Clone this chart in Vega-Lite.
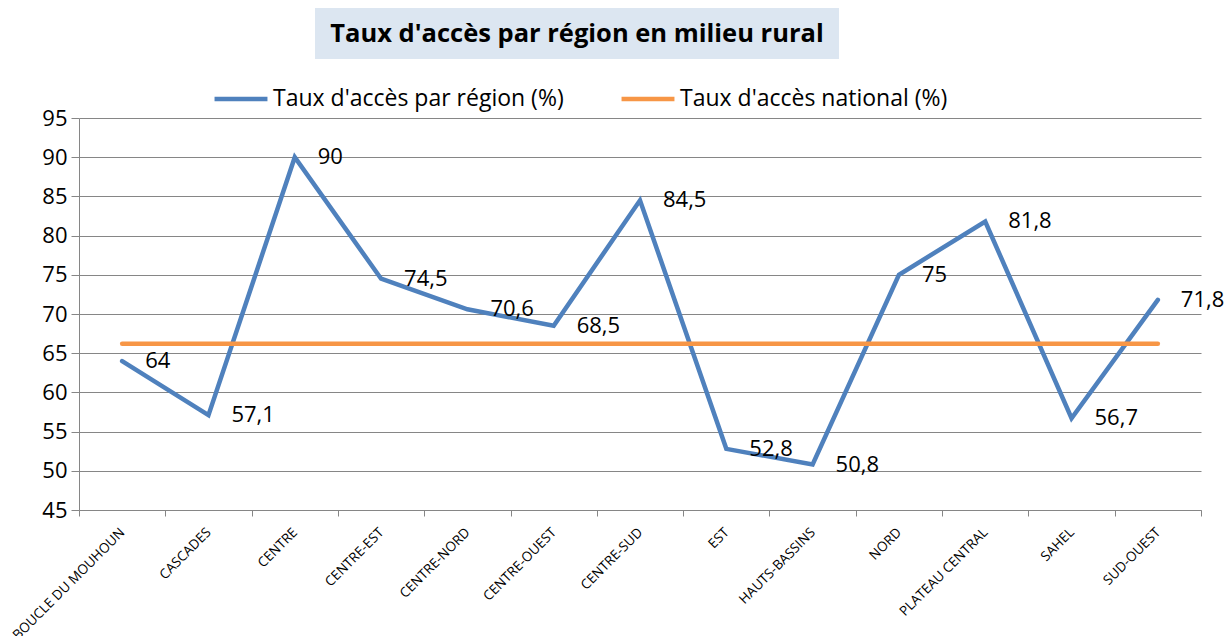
{
  "$schema": "https://vega.github.io/schema/vega-lite/v6.json",
  "background": "white",
  "padding": {"left": 9, "top": 8, "right": 0, "bottom": 0},
  "config": {"font": "Open Sans", "view": {"stroke": null}},
  "spacing": 110,
  "bounds": "flush",
  "vconcat": [
    {
      "spacing": 0,
      "bounds": "flush",
      "hconcat": [
        {
          "width": 236,
          "height": 51,
          "data": {"values": [{"t": ""}]},
          "mark": {"type": "text"},
          "encoding": {"text": {"field": "t"}}
        },
        {
          "width": 524,
          "height": 51,
          "view": {"fill": "#DCE6F1", "stroke": null},
          "data": {"values": [{"t": "Taux d'accès par région en milieu rural"}]},
          "mark": {"type": "text", "fontWeight": "bold", "fontSize": 25.5, "color": "black", "baseline": "middle", "align": "center"},
          "encoding": {"text": {"field": "t"}}
        }
      ]
    },
    {
      "width": 1122,
      "height": 392,
      "data": {
        "values": [
          {"region": "BOUCLE DU MOUHOUN", "taux": 64, "label": "64", "national": 66.2},
          {"region": "CASCADES", "taux": 57.1, "label": "57,1", "national": 66.2},
          {"region": "CENTRE", "taux": 90, "label": "90", "national": 66.2},
          {"region": "CENTRE-EST", "taux": 74.5, "label": "74,5", "national": 66.2},
          {"region": "CENTRE-NORD", "taux": 70.6, "label": "70,6", "national": 66.2},
          {"region": "CENTRE-OUEST", "taux": 68.5, "label": "68,5", "national": 66.2},
          {"region": "CENTRE-SUD", "taux": 84.5, "label": "84,5", "national": 66.2},
          {"region": "EST", "taux": 52.8, "label": "52,8", "national": 66.2},
          {"region": "HAUTS-BASSINS", "taux": 50.8, "label": "50,8", "national": 66.2},
          {"region": "NORD", "taux": 75, "label": "75", "national": 66.2},
          {"region": "PLATEAU CENTRAL", "taux": 81.8, "label": "81,8", "national": 66.2},
          {"region": "SAHEL", "taux": 56.7, "label": "56,7", "national": 66.2},
          {"region": "SUD-OUEST", "taux": 71.8, "label": "71,8", "national": 66.2}
        ]
      },
      "encoding": {
        "x": {
          "field": "region",
          "type": "nominal",
          "sort": null,
          "scale": {"type": "band", "paddingInner": 0, "paddingOuter": 0},
          "axis": {
            "title": null,
            "labelAngle": -45,
            "labelAlign": "right",
            "labelBaseline": "middle",
            "labelFontSize": 13.5,
            "labelColor": "black",
            "labelPadding": 14,
            "labelLimit": 0,
            "tickBand": "extent",
            "tickSize": 6,
            "tickColor": "#868686",
            "domainColor": "#868686",
            "grid": false
          }
        }
      },
      "layer": [
        {
          "mark": {"type": "line", "strokeWidth": 4.5, "strokeCap": "round", "strokeJoin": "miter"},
          "encoding": {
            "y": {
              "field": "taux",
              "type": "quantitative",
              "scale": {"domain": [45, 95], "nice": false, "zero": false},
              "axis": {
                "title": null,
                "values": [45, 50, 55, 60, 65, 70, 75, 80, 85, 90, 95],
                "labelOverlap": false,
                "grid": true,
                "gridColor": "#868686",
                "domainColor": "#868686",
                "tickColor": "#868686",
                "tickSize": 8,
                "labelFontSize": 22,
                "labelColor": "black",
                "labelPadding": 4
              }
            },
            "color": {
              "datum": "Taux d'accès par région (%)",
              "type": "nominal",
              "scale": {
                "domain": ["Taux d'accès par région (%)", "Taux d'accès national (%)"],
                "range": ["#4F81BD", "#F79646"]
              },
              "legend": {
                "title": null,
                "orient": "none",
                "legendX": 133,
                "legendY": 62,
                "direction": "horizontal",
                "symbolType": "stroke",
                "symbolStrokeWidth": 4.5,
                "symbolSize": 2800,
                "labelFontSize": 23,
                "labelLimit": 0,
                "labelColor": "black",
                "labelOffset": 3,
                "columnPadding": 48
              }
            }
          }
        },
        {
          "mark": {"type": "line", "strokeWidth": 4.5, "strokeCap": "round"},
          "encoding": {
            "y": {
              "field": "national",
              "type": "quantitative",
              "scale": {"domain": [45, 95], "nice": false, "zero": false},
              "axis": {
                "title": null,
                "values": [45, 50, 55, 60, 65, 70, 75, 80, 85, 90, 95],
                "labelOverlap": false,
                "grid": true,
                "gridColor": "#868686",
                "domainColor": "#868686",
                "tickColor": "#868686",
                "tickSize": 8,
                "labelFontSize": 22,
                "labelColor": "black",
                "labelPadding": 4
              }
            },
            "color": {"datum": "Taux d'accès national (%)", "type": "nominal"}
          }
        },
        {
          "mark": {"type": "text", "align": "left", "baseline": "middle", "dx": 23, "fontSize": 22, "color": "black"},
          "encoding": {
            "y": {
              "field": "taux",
              "type": "quantitative",
              "scale": {"domain": [45, 95], "nice": false, "zero": false},
              "axis": {
                "title": null,
                "values": [45, 50, 55, 60, 65, 70, 75, 80, 85, 90, 95],
                "labelOverlap": false,
                "grid": true,
                "gridColor": "#868686",
                "domainColor": "#868686",
                "tickColor": "#868686",
                "tickSize": 8,
                "labelFontSize": 22,
                "labelColor": "black",
                "labelPadding": 4
              }
            },
            "text": {"field": "label"}
          }
        }
      ]
    }
  ]
}
